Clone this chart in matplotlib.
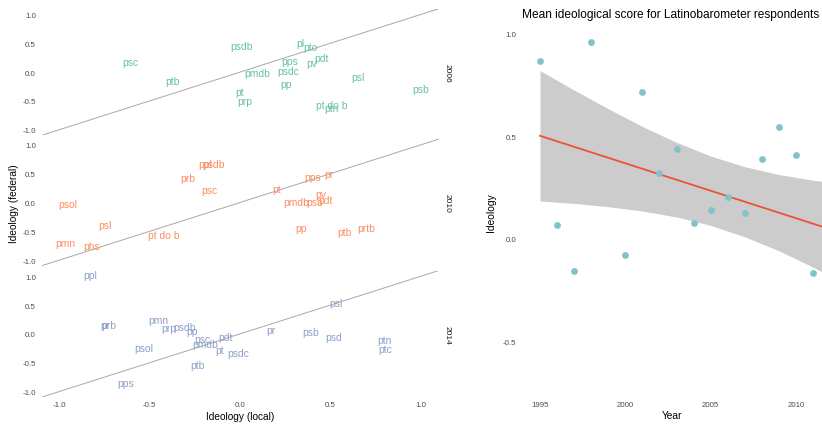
import matplotlib
matplotlib.use("Agg")
import matplotlib.pyplot as plt
import numpy as np

plt.rcParams['font.family'] = ['Liberation Sans', 'DejaVu Sans']
plt.rcParams['axes.unicode_minus'] = False

# ---------------- data: left facets (party labels, local vs federal ideology) -------------
facet_years = ["2006", "2010", "2014"]
facet_colors = ["#66C2A5", "#FC8D62", "#8DA0CB"]

parties_2006 = ["psc", "ptb", "psdb", "pl", "pto", "pps", "pdt", "pv", "pmdb", "psdc",
                "pp", "pt", "prp", "psl", "psb", "pt do b", "ptn"]
local_2006 = [-0.605, -0.375, 0.011, 0.336, 0.392, 0.277, 0.454, 0.40, 0.098, 0.266,
              0.255, 0.0, 0.026, 0.652, 1.003, 0.511, 0.508]
federal_2006 = [0.18, -0.157, 0.457, 0.51, 0.43, 0.19, 0.25, 0.157, -0.023, 0.023,
                -0.214, -0.353, -0.504, -0.092, -0.296, -0.574, -0.626]

parties_2010 = ["ppl", "psdb", "prb", "psc", "pt", "pps", "pr", "pv", "pdt", "pmdb",
                "psb", "psol", "psl", "pmn", "phs", "pt do b", "pp", "ptb", "prtb"]
local_2010 = [-0.19, -0.148, -0.292, -0.17, 0.203, 0.403, 0.493, 0.447, 0.475, 0.314,
              0.415, -0.957, -0.746, -0.968, -0.82, -0.423, 0.338, 0.58, 0.702]
federal_2010 = [0.67, 0.67, 0.423, 0.209, 0.243, 0.45, 0.487, 0.151, 0.047, 0.0,
                0.0, -0.023, -0.394, -0.707, -0.748, -0.557, -0.446, -0.516, -0.446]

parties_2014 = ["ppl", "prb", "pr", "pmn", "prp", "psdb", "pp", "psc", "pmdb", "pdt",
                "pt", "psdc", "psol", "ptb", "pps", "pr", "psb", "psd", "psl", "ptn", "ptc"]
local_2014 = [-0.829, -0.727, -0.746, -0.45, -0.397, -0.305, -0.266, -0.209, -0.192, -0.079,
              -0.115, -0.011, -0.534, -0.238, -0.635, 0.17, 0.392, 0.519, 0.532, 0.803, 0.803]
federal_2014 = [1.03, 0.162, 0.162, 0.238, 0.104, 0.127, 0.047, -0.092, -0.179, -0.057,
                -0.278, -0.33, -0.249, -0.544, -0.847, 0.07, 0.035, -0.047, 0.534, -0.104, -0.255]

facet_parties = [parties_2006, parties_2010, parties_2014]
facet_local = [local_2006, local_2010, local_2014]
facet_federal = [federal_2006, federal_2010, federal_2014]

ideo_ticks = [-1.0, -0.5, 0.0, 0.5, 1.0]
ideo_ticklabels = ["-1.0", "-0.5", "0.0", "0.5", "1.0"]

# ---------------- data: right panel (Latinobarometer means) -------------
years = [1995, 1996, 1997, 1998, 2000, 2001, 2002, 2003, 2004, 2005, 2006, 2007,
         2008, 2009, 2010, 2011]
mean_ideology = [0.868, 0.065, -0.158, 0.961, -0.08, 0.716, 0.319, 0.436, 0.078, 0.141,
                 0.203, 0.127, 0.387, 0.546, 0.407, -0.169]

# fitted trend and its confidence band
fit_years = [1995, 2011.6]
fit_values = [0.502, 0.057]
band_years = [1995, 1997, 1999, 2001, 2003, 2005, 2007, 2009, 2011, 2011.6]
band_upper = [0.820, 0.725, 0.634, 0.547, 0.470, 0.403, 0.351, 0.313, 0.285, 0.279]
band_lower = [0.184, 0.172, 0.156, 0.135, 0.106, 0.065, 0.009, -0.059, -0.139, -0.165]

year_ticks = [1995, 2000, 2005, 2010]
right_yticks = [-0.5, 0.0, 0.5, 1.0]

# ---------------- figure -------------
W, H = 822, 427
fig = plt.figure(figsize=(W / 100, H / 100), dpi=100)

def px_axes(x0, y0, x1, y1):
    return fig.add_axes([x0 / W, 1 - y1 / H, (x1 - x0) / W, (y1 - y0) / H])

tick_color = "#4D4D4D"
tick_size = 5.7
panel_tops = [9.8, 140.2, 271.6]
panel_h = 126.6
for i in range(3):
    ax = px_axes(41.5, panel_tops[i], 438.5, panel_tops[i] + panel_h)
    ax.set_xlim(-1.1, 1.1)
    ax.set_ylim(-1.1, 1.1)
    ax.axline((0, 0), slope=1, color="#A8A8A8", lw=0.7, zorder=1)
    for lab, xv, yv in zip(facet_parties[i], facet_local[i], facet_federal[i]):
        ax.text(xv, yv, lab, color=facet_colors[i], fontsize=7.4,
                ha="center", va="center", zorder=2)
    for s in ax.spines.values():
        s.set_visible(False)
    ax.set_yticks(ideo_ticks)
    ax.set_yticklabels(ideo_ticklabels)
    ax.tick_params(axis="y", length=0, pad=4, labelsize=tick_size, labelcolor=tick_color)
    ax.set_xticks(ideo_ticks)
    if i == 2:
        ax.set_xticklabels(ideo_ticklabels)
        ax.tick_params(axis="x", length=0, pad=2.4, labelsize=tick_size, labelcolor=tick_color)
    else:
        ax.tick_params(axis="x", length=0, labelbottom=False)
    ax.text(1.0 + 9 / 397, 0.5, facet_years[i], transform=ax.transAxes, rotation=-90,
            ha="center", va="center", fontsize=6.0, color="#1A1A1A")
    ax.patch.set_alpha(0)

fig.text(14 / W, 1 - 204 / H, "Ideology (federal)", rotation=90, ha="center", va="center",
         fontsize=7.3, color="black")
fig.text(240.5 / W, 1 - 416.7 / H, "Ideology (local)", ha="center", va="center",
         fontsize=7.3, color="black")

# right panel
axr = px_axes(522, 26, 822, 399)
y_per_px = 1 / 205.0
axr.set_ylim((239.7 - 399) * y_per_px, (239.7 - 26) * y_per_px)
axr.set_xlim(1995 - 18 / 17.07, 1995 + 282 / 17.07)
axr.fill_between(band_years, band_lower, band_upper, color="#CCCCCC", lw=0, zorder=1)
axr.plot(fit_years, fit_values, color="#EE5236", lw=1.3, zorder=2)
axr.scatter(years, mean_ideology, s=24, color="#7FC4CC", lw=0, zorder=3)
for s in axr.spines.values():
    s.set_visible(False)
axr.set_xticks(year_ticks)
axr.set_xticklabels([str(y) for y in year_ticks])
axr.set_yticks(right_yticks)
axr.set_yticklabels(["-0.5", "0.0", "0.5", "1.0"])
axr.tick_params(axis="both", length=0, labelsize=tick_size, labelcolor=tick_color)
axr.tick_params(axis="y", pad=4)
axr.tick_params(axis="x", pad=2.4)
axr.set_xlabel("Year", fontsize=7.4, labelpad=1.5)
axr.set_ylabel("Ideology", fontsize=7.4, labelpad=5)
axr.set_title("Mean ideological score for Latinobarometer respondents", loc="left",
              fontsize=8.6, pad=5.5)
axr.patch.set_alpha(0)

fig.savefig("out.png", dpi=100)
